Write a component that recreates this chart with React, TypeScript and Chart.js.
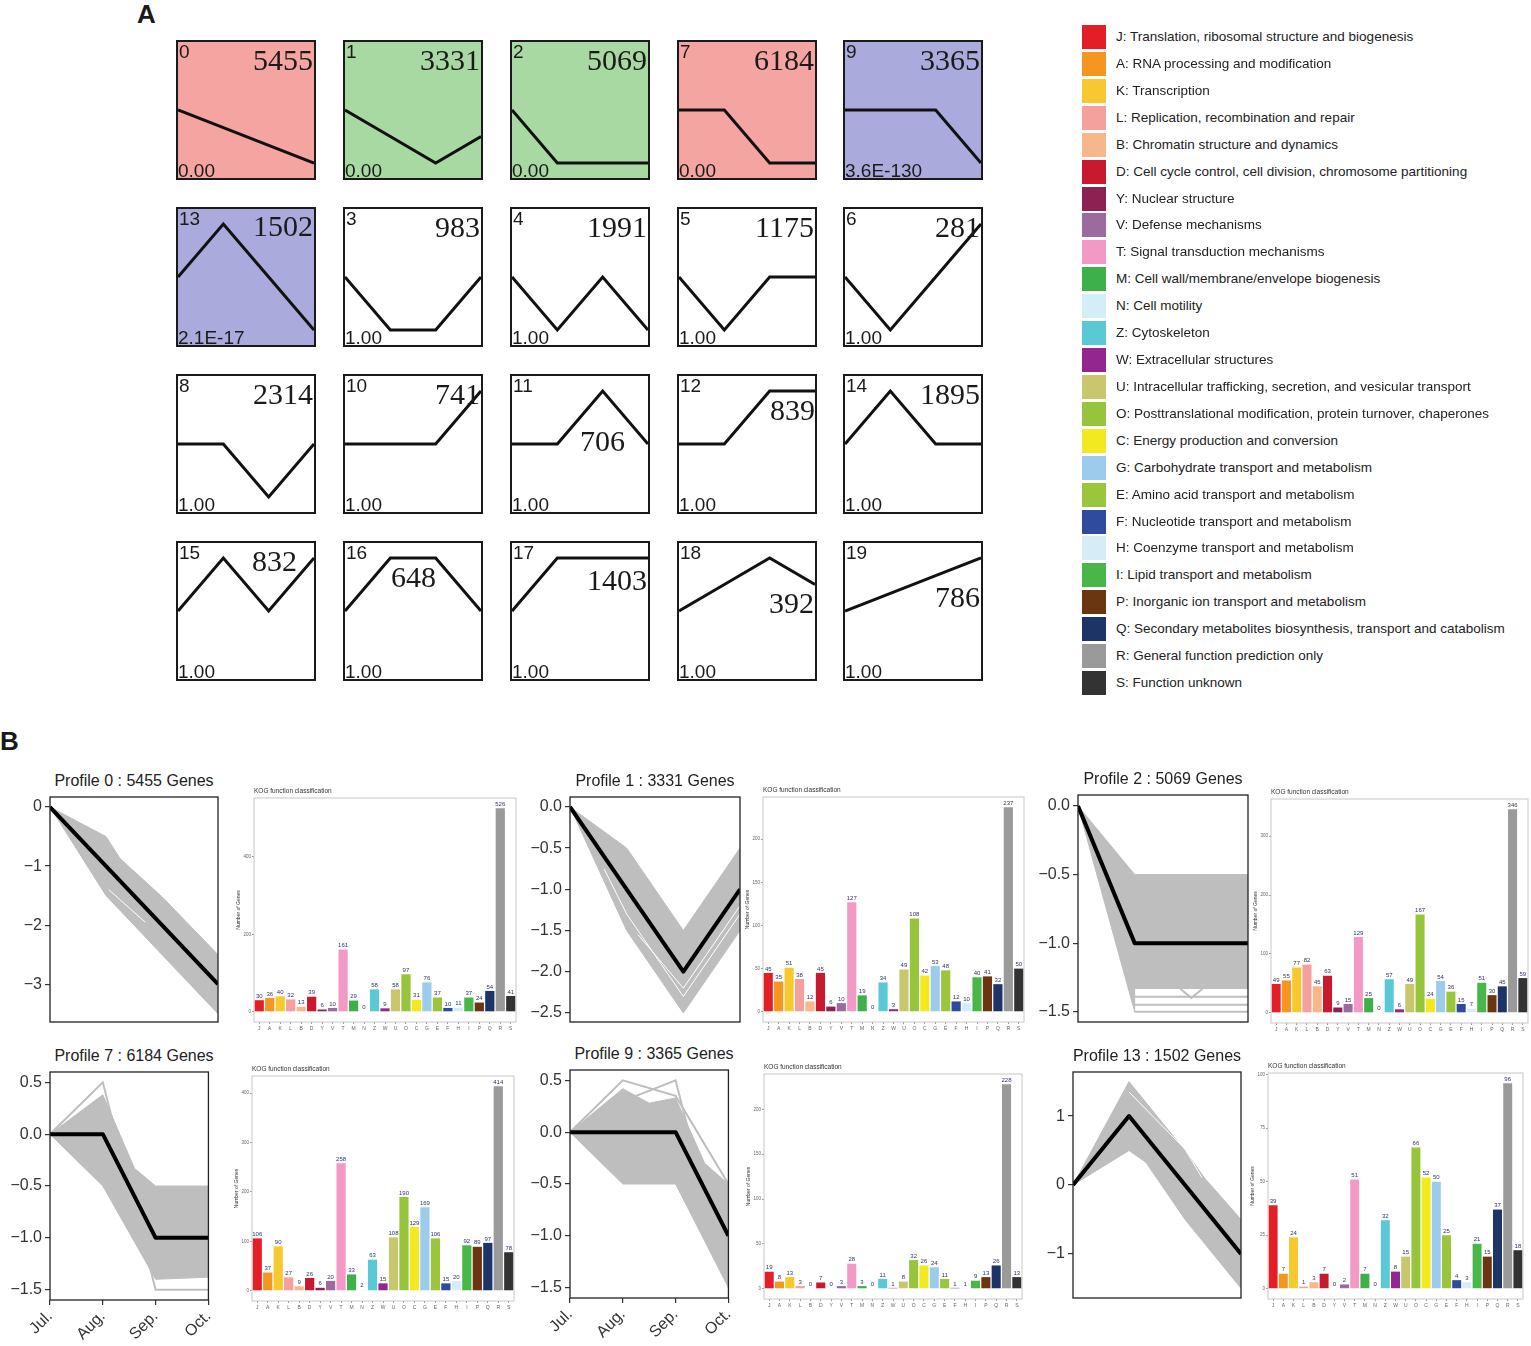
import React, { useEffect, useRef } from 'react';
import { Chart, registerables } from 'chart.js';

Chart.register(...registerables);

const SANS = '"Liberation Sans", Arial, Helvetica, sans-serif';
const SERIF = '"Liberation Serif", "Times New Roman", Times, serif';

/* ---------------- Panel A : STEM model profiles ---------------- */
const clusterIds = [0, 1, 2, 7, 9, 13, 3, 4, 5, 6, 8, 10, 11, 12, 14, 15, 16, 17, 18, 19];
const clusterPatterns = [
  [0, -1, -2, -3], [0, -1, -2, -1], [0, -1, -1, -1], [0, 0, -1, -1], [0, 0, 0, -1],
  [0, 1, 0, -1], [0, -1, -1, 0], [0, -1, 0, -1], [0, -1, 0, 0], [0, -1, 0, 1],
  [0, 0, -1, 0], [0, 0, 0, 1], [0, 0, 1, 0], [0, 0, 1, 1], [0, 1, 0, 0],
  [0, 1, 0, 1], [0, 1, 1, 0], [0, 1, 1, 1], [0, 1, 2, 1], [0, 1, 2, 3],
];
const clusterGeneCounts = [5455, 3331, 5069, 6184, 3365, 1502, 983, 1991, 1175, 281, 2314, 741, 706, 839, 1895, 832, 648, 1403, 392, 786];
const clusterPValues = ['0.00', '0.00', '0.00', '0.00', '3.6E-130', '2.1E-17', '1.00', '1.00', '1.00', '1.00',
  '1.00', '1.00', '1.00', '1.00', '1.00', '1.00', '1.00', '1.00', '1.00', '1.00'];
const clusterGroups = ['red', 'green', 'green', 'red', 'blue', 'blue', '', '', '', '', '', '', '', '', '', '', '', '', '', ''];

/* ---------------- KOG categories ---------------- */
const kogCodes = ['J', 'A', 'K', 'L', 'B', 'D', 'Y', 'V', 'T', 'M', 'N', 'Z', 'W', 'U', 'O', 'C', 'G', 'E', 'F', 'H', 'I', 'P', 'Q', 'R', 'S'];
const kogNames = [
  'Translation, ribosomal structure and biogenesis',
  'RNA processing and modification',
  'Transcription',
  'Replication, recombination and repair',
  'Chromatin structure and dynamics',
  'Cell cycle control, cell division, chromosome partitioning',
  'Nuclear structure',
  'Defense mechanisms',
  'Signal transduction mechanisms',
  'Cell wall/membrane/envelope biogenesis',
  'Cell motility',
  'Cytoskeleton',
  'Extracellular structures',
  'Intracellular trafficking, secretion, and vesicular transport',
  'Posttranslational modification, protein turnover, chaperones',
  'Energy production and conversion',
  'Carbohydrate transport and metabolism',
  'Amino acid transport and metabolism',
  'Nucleotide transport and metabolism',
  'Coenzyme transport and metabolism',
  'Lipid transport and metabolism',
  'Inorganic ion transport and metabolism',
  'Secondary metabolites biosynthesis, transport and catabolism',
  'General function prediction only',
  'Function unknown',
];
const kogColors = ['#E41E26', '#F4961F', '#F7C830', '#F4A09C', '#F8B68B', '#C8192F', '#8B2252', '#9B6B9E', '#F29AC5',
  '#3EB049', '#D3EEF6', '#5BC8D5', '#93278F', '#C9C76E', '#97C43D', '#F2E921', '#9DCBEC', '#9BC53D', '#2E4B9E',
  '#D6EDF7', '#49B649', '#6B3512', '#1C3566', '#9A9A9A', '#333333'];

/* ---------------- Panel B : profile details ---------------- */
const monthLabels = ['Jul.', 'Aug.', 'Sep.', 'Oct.'];

// Profile 0
const p0Mean = [0, -1, -2, -3];
const p0Upper = [[0, 0], [1, -0.5], [1.25, -0.87], [2, -1.52], [3, -2.5]];
const p0Lower = [[0, 0], [1, -1.5], [2, -2.5], [3, -3.5]];
const p0WhiteLines = [[[1.05, -1.4], [1.7, -1.95]]];
const p0YTicks = [0, -1, -2, -3];
const p0YLabels = ['0', '−1', '−2', '−3'];
const p0YRange = [-3.64, 0.17];
const p0Kog = [30, 36, 40, 32, 13, 39, 6, 10, 161, 29, 0, 58, 9, 58, 97, 31, 76, 37, 10, 11, 37, 24, 54, 526, 41];
const p0KogTicks = [0, 200, 400];

// Profile 1
const p1Mean = [0, -1, -2, -1];
const p1Upper = [[0, 0], [1, -0.5], [2, -1.5], [3, -0.5]];
const p1Lower = [[0, 0], [1, -1.5], [2, -2.5], [3, -1.5]];
const p1WhiteLines = [[[0.6, -0.75], [1, -1.3], [2, -2.3], [3, -1.3]], [[1.2, -1.55], [2, -2.2], [3, -1.2]]];
const p1YTicks = [0, -0.5, -1, -1.5, -2, -2.5];
const p1YLabels = ['0.0', '−0.5', '−1.0', '−1.5', '−2.0', '−2.5'];
const p1YRange = [-2.61, 0.12];
const p1Kog = [45, 35, 51, 38, 12, 45, 6, 10, 127, 19, 0, 34, 3, 49, 108, 42, 53, 48, 12, 10, 40, 41, 32, 237, 50];
const p1KogTicks = [0, 50, 100, 150, 200];

// Profile 2
const p2Mean = [0, -1, -1, -1];
const p2Upper = [[0, 0], [1, -0.5], [3, -0.5]];
const p2Lower = [[0, 0], [1, -1.5], [1, -1.33], [3, -1.33]];
const p2GrayLines = [[[1, -1.39], [3, -1.39]], [[1, -1.45], [3, -1.45]], [[1, -1.5], [3, -1.5]], [[1.8, -1.33], [2, -1.4], [2.2, -1.33]]];
const p2YTicks = [0, -0.5, -1, -1.5];
const p2YLabels = ['0.0', '−0.5', '−1.0', '−1.5'];
const p2YRange = [-1.575, 0.08];
const p2Kog = [49, 55, 77, 82, 45, 63, 9, 15, 129, 25, 0, 57, 6, 49, 167, 24, 54, 36, 15, 7, 51, 30, 45, 346, 59];
const p2KogTicks = [0, 100, 200, 300];

// Profile 7
const p7Mean = [0, 0, -1, -1];
const p7Upper = [[0, 0], [1, 0.38], [1.6, -0.33], [2, -0.5], [3, -0.5]];
const p7Lower = [[0, 0], [1, -0.5], [2, -1.4], [3, -1.38]];
const p7GrayLines = [[[0, 0], [1, 0.5], [2, -1.5], [3, -1.5]]];
const p7YTicks = [0.5, 0, -0.5, -1, -1.5];
const p7YLabels = ['0.5', '0.0', '−0.5', '−1.0', '−1.5'];
const p7YRange = [-1.6, 0.6];
const p7Kog = [106, 37, 90, 27, 9, 26, 6, 20, 258, 33, 2, 63, 15, 108, 190, 129, 169, 106, 15, 20, 92, 89, 97, 414, 78];
const p7KogTicks = [0, 100, 200, 300, 400];

// Profile 9
const p9Mean = [0, 0, 0, -1];
const p9Upper = [[0, 0], [1, 0.42], [1.5, 0.28], [2, 0.33], [2.55, -0.3], [3, -0.5]];
const p9Lower = [[0, 0], [1, -0.5], [2, -0.5], [3, -1.5]];
const p9GrayLines = [[[0, 0], [1, 0.5], [2, 0.35], [3, -0.5]], [[0, 0], [1, 0.3], [2, 0.5], [3, -1.5]]];
const p9YTicks = [0.5, 0, -0.5, -1, -1.5];
const p9YLabels = ['0.5', '0.0', '−0.5', '−1.0', '−1.5'];
const p9YRange = [-1.6, 0.6];
const p9Kog = [19, 8, 13, 3, 0, 7, 0, 3, 28, 3, 0, 11, 1, 8, 32, 26, 24, 11, 1, 1, 9, 13, 26, 228, 13];
const p9KogTicks = [0, 50, 100, 150, 200];

// Profile 13
const p13Mean = [0, 1, 0, -1];
const p13Upper = [[0, 0], [1, 1.5], [2, 0.5], [2.35, 0.1], [3, -0.5]];
const p13Lower = [[0, 0], [1, 0.5], [1.3, 0.33], [2, -0.5], [3, -1.5]];
const p13WhiteLines = [[[1, 1.35], [2, 0.52], [2.3, 0.11]]];
const p13YTicks = [1, 0, -1];
const p13YLabels = ['1', '0', '−1'];
const p13YRange = [-1.64, 1.64];
const p13Kog = [39, 7, 24, 1, 3, 7, 0, 2, 51, 7, 0, 32, 8, 15, 66, 52, 50, 25, 4, 3, 21, 15, 37, 96, 18];
const p13KogTicks = [0, 25, 50, 75, 100];

const detailProfiles = [
  { id: 0, genes: 5455, mean: p0Mean, upper: p0Upper, lower: p0Lower, gray: [], white: p0WhiteLines, yTicks: p0YTicks, yLabels: p0YLabels, yRange: p0YRange, kog: p0Kog, kogTicks: p0KogTicks },
  { id: 1, genes: 3331, mean: p1Mean, upper: p1Upper, lower: p1Lower, gray: [], white: p1WhiteLines, yTicks: p1YTicks, yLabels: p1YLabels, yRange: p1YRange, kog: p1Kog, kogTicks: p1KogTicks },
  { id: 2, genes: 5069, mean: p2Mean, upper: p2Upper, lower: p2Lower, gray: p2GrayLines, white: [], yTicks: p2YTicks, yLabels: p2YLabels, yRange: p2YRange, kog: p2Kog, kogTicks: p2KogTicks },
  { id: 7, genes: 6184, mean: p7Mean, upper: p7Upper, lower: p7Lower, gray: p7GrayLines, white: [], yTicks: p7YTicks, yLabels: p7YLabels, yRange: p7YRange, kog: p7Kog, kogTicks: p7KogTicks },
  { id: 9, genes: 3365, mean: p9Mean, upper: p9Upper, lower: p9Lower, gray: p9GrayLines, white: [], yTicks: p9YTicks, yLabels: p9YLabels, yRange: p9YRange, kog: p9Kog, kogTicks: p9KogTicks },
  { id: 13, genes: 1502, mean: p13Mean, upper: p13Upper, lower: p13Lower, gray: [], white: p13WhiteLines, yTicks: p13YTicks, yLabels: p13YLabels, yRange: p13YRange, kog: p13Kog, kogTicks: p13KogTicks },
];

/* ---------------- layout (positions only) ---------------- */
const boxLeft = [176, 343, 510, 677, 843];
const boxTop = [40, 207, 374, 541];
const BOX = 140;
// [distance of count text from box right edge, vertical centre of count from box top]
const countPlacement = [
  [3, 20], [3, 20], [3, 20], [3, 20], [3, 20],
  [3, 19], [3, 20], [3, 20], [3, 20], [3, 20],
  [3, 20], [3, 20], [25, 67], [2, 36], [3, 20],
  [19, 20], [47, 36], [3, 39], [3, 62], [3, 56],
];
const groupFill: Record<string, string> = { red: '#F4A4A1', green: '#A9D9A2', blue: '#AAAADC', '': '#FFFFFF' };

const lineBoxes = [
  { l: 50, t: 797, r: 218, b: 1022, showX: false },
  { l: 570, t: 797, r: 740, b: 1022, showX: false },
  { l: 1078, t: 795, r: 1248, b: 1022, showX: false },
  { l: 50, t: 1072, r: 218, b: 1300, showX: true },
  { l: 570, t: 1070, r: 738, b: 1298, showX: true },
  { l: 1073, t: 1072, r: 1241, b: 1298, showX: false },
];
const barBoxes = [
  { l: 254, t: 798, r: 516, b: 1022 },
  { l: 763, t: 797, r: 1024, b: 1022 },
  { l: 1271, t: 799, r: 1528, b: 1023 },
  { l: 252, t: 1076, r: 514, b: 1301 },
  { l: 764, t: 1074, r: 1022, b: 1299 },
  { l: 1268, t: 1073, r: 1523, b: 1299 },
];

const BAND = '#BEBEBE';

/* ---------------- helpers ---------------- */
const framePlugin = (color: string, width: number) => ({
  id: 'frame',
  afterDraw(chart: any) {
    const { ctx, chartArea: a } = chart;
    ctx.save();
    ctx.strokeStyle = color;
    ctx.lineWidth = width;
    ctx.strokeRect(a.left, a.top, a.right - a.left, a.bottom - a.top);
    ctx.restore();
  },
});

const barLabelPlugin = {
  id: 'barLabels',
  afterDatasetsDraw(chart: any) {
    const ctx = chart.ctx;
    const meta = chart.getDatasetMeta(0);
    const vals = chart.data.datasets[0].data;
    ctx.save();
    ctx.font = `6px ${SANS}`;
    ctx.fillStyle = '#2E3566';
    ctx.textAlign = 'center';
    ctx.textBaseline = 'bottom';
    meta.data.forEach((bar: any, i: number) => ctx.fillText(String(vals[i]), bar.x, bar.y - 1));
    ctx.restore();
  },
};

const kogTitlePlugin = {
  id: 'kogTitle',
  afterDraw(chart: any) {
    const { ctx, chartArea: a } = chart;
    ctx.save();
    ctx.font = `6.5px ${SANS}`;
    ctx.fillStyle = '#333';
    ctx.textAlign = 'left';
    ctx.textBaseline = 'alphabetic';
    ctx.fillText('KOG function classification', a.left, a.top - 5);
    ctx.restore();
  },
};

function ChartCanvas({ left, top, width, height, make }: any) {
  const ref = useRef<HTMLCanvasElement>(null);
  useEffect(() => {
    const chart = new Chart(ref.current as HTMLCanvasElement, make());
    return () => chart.destroy();
  }, []);
  return (
    <canvas
      ref={ref}
      width={width}
      height={height}
      style={{ position: 'absolute', left, top, width, height, display: 'block' }}
    />
  );
}

function miniConfig(pattern: number[]): any {
  const m = Math.max(...pattern.map((v) => Math.abs(v)));
  const lim = m * 1.283;
  return {
    type: 'line',
    data: {
      datasets: [{
        data: pattern.map((y, i) => ({ x: i, y })),
        borderColor: '#111',
        borderWidth: 3,
        pointRadius: 0,
        fill: false,
        tension: 0,
      }],
    },
    options: {
      responsive: false,
      animation: false,
      events: [],
      layout: { padding: 0 },
      plugins: { legend: { display: false }, tooltip: { enabled: false } },
      scales: {
        x: { type: 'linear', display: false, min: 0, max: 3 },
        y: { display: false, min: -lim, max: lim },
      },
    },
  };
}

const PAD_TOP = 14;
const PAD_BOTTOM = 16;
const Y_W = 50;
const X_H = 44;

function profileConfig(p: any, showX: boolean): any {
  const pts = (arr: number[][]) => arr.map(([x, y]) => ({ x, y }));
  // Chart.js paints higher "order" first, so the band sits behind and the mean line on top.
  const datasets: any[] = [
    { data: pts(p.upper), borderColor: BAND, backgroundColor: BAND, borderWidth: 1, fill: '+1', pointRadius: 0, order: 10 },
    { data: pts(p.lower), borderColor: BAND, borderWidth: 1, fill: false, pointRadius: 0, order: 9 },
  ];
  p.gray.forEach((l: number[][]) => datasets.push({ data: pts(l), borderColor: BAND, borderWidth: 2, fill: false, pointRadius: 0, order: 5 }));
  p.white.forEach((l: number[][]) => datasets.push({ data: pts(l), borderColor: '#FFFFFF', borderWidth: 1, fill: false, pointRadius: 0, order: 3 }));
  datasets.push({ data: p.mean.map((y: number, i: number) => ({ x: i, y })), borderColor: '#000', borderWidth: 4, fill: false, pointRadius: 0, borderJoinStyle: 'round', order: 0 });
  return {
    type: 'line',
    data: { datasets },
    options: {
      responsive: false,
      animation: false,
      events: [],
      layout: { padding: { top: PAD_TOP, right: 6, left: 0, bottom: showX ? 0 : PAD_BOTTOM } },
      plugins: { legend: { display: false }, tooltip: { enabled: false } },
      scales: {
        x: {
          type: 'linear', min: 0, max: 3, display: showX,
          afterBuildTicks: (s: any) => { s.ticks = [0, 1, 2, 3].map((v) => ({ value: v })); },
          ticks: {
            callback: (_v: any, i: number) => monthLabels[i],
            font: { size: 16, family: SANS }, color: '#333', minRotation: 45, maxRotation: 45, autoSkip: false, padding: 2,
          },
          grid: { drawOnChartArea: false, drawTicks: true, tickLength: 5, color: '#333', tickColor: '#333', lineWidth: 1.2 },
          border: { display: false },
          afterFit: (s: any) => { s.height = showX ? X_H : 0; },
        },
        y: {
          type: 'linear', min: p.yRange[0], max: p.yRange[1],
          afterBuildTicks: (s: any) => { s.ticks = p.yTicks.map((v: number) => ({ value: v })); },
          ticks: {
            callback: (_v: any, i: number) => p.yLabels[i],
            font: { size: 16, family: SANS }, color: '#333', padding: 3, autoSkip: false,
          },
          grid: { drawOnChartArea: false, drawTicks: true, tickLength: 5, color: '#333', tickColor: '#333', lineWidth: 1.2 },
          border: { display: false },
          afterFit: (s: any) => { s.width = Y_W; },
        },
      },
    },
    plugins: [framePlugin('#222', 1.3)],
  };
}

const BAR_Y_W = 18;
const BAR_X_H = 12;
const BAR_TOP = 14;

function barConfig(values: number[], ticks: number[]): any {
  const max = Math.max(...values);
  return {
    type: 'bar',
    data: {
      labels: kogCodes,
      datasets: [{ data: values, backgroundColor: kogColors, borderWidth: 0, barPercentage: 0.88, categoryPercentage: 1 }],
    },
    options: {
      responsive: false,
      animation: false,
      events: [],
      layout: { padding: { top: BAR_TOP, right: 3, left: 0, bottom: 0 } },
      plugins: { legend: { display: false }, tooltip: { enabled: false } },
      scales: {
        x: {
          ticks: { font: { size: 5, family: SANS }, color: '#666', autoSkip: false, maxRotation: 0, minRotation: 0, padding: 2 },
          grid: { display: true, drawOnChartArea: false, drawTicks: true, tickLength: 2, color: '#999', offset: false },
          border: { display: false },
          afterFit: (s: any) => { s.height = BAR_X_H; },
        },
        y: {
          min: -0.05 * max, max: 1.05 * max,
          afterBuildTicks: (s: any) => { s.ticks = ticks.map((v) => ({ value: v })); },
          ticks: { font: { size: 4.5, family: SANS }, color: '#666', padding: 1, autoSkip: false },
          grid: { drawOnChartArea: false, drawTicks: true, tickLength: 2, color: '#999' },
          border: { display: false },
          title: { display: true, text: 'Number of Genes', font: { size: 5, family: SANS }, color: '#333', padding: 0 },
          afterFit: (s: any) => { s.width = BAR_Y_W; },
        },
      },
    },
    plugins: [framePlugin('#C8C8C8', 1), barLabelPlugin, kogTitlePlugin],
  };
}

export default function App() {
  useEffect(() => {
    document.body.style.overflow = 'hidden';
  }, []);

  return (
    <div style={{ position: 'absolute', left: 0, top: 0, width: 1531, height: 1346, overflow: 'hidden', background: '#fff', fontFamily: SANS, color: '#1a1a1a' }}>
      {/* Panel letters */}
      <div style={{ position: 'absolute', left: 137, top: 1, fontSize: 26, fontWeight: 'bold', lineHeight: 1 }}>A</div>
      <div style={{ position: 'absolute', left: 0, top: 728, fontSize: 26, fontWeight: 'bold', lineHeight: 1 }}>B</div>

      {/* Panel A boxes */}
      {clusterIds.map((id, i) => {
        const left = boxLeft[i % 5];
        const top = boxTop[Math.floor(i / 5)];
        const [cr, cy] = countPlacement[i];
        return (
          <div key={id} style={{ position: 'absolute', left, top, width: BOX, height: BOX, border: '2px solid #1a1a1a', boxSizing: 'border-box', background: groupFill[clusterGroups[i]] }}>
            <ChartCanvas left={0} top={0} width={BOX - 4} height={BOX - 4} make={() => miniConfig(clusterPatterns[i])} />
            <div style={{ position: 'absolute', left: 1, top: 0, fontSize: 19, lineHeight: 1 }}>{id}</div>
            <div style={{ position: 'absolute', right: cr - 2, top: cy - 2, transform: 'translateY(-50%)', fontFamily: SERIF, fontSize: 30, lineHeight: 1 }}>{clusterGeneCounts[i]}</div>
            <div style={{ position: 'absolute', left: 0, bottom: -2, fontSize: 19, lineHeight: 1 }}>{clusterPValues[i]}</div>
          </div>
        );
      })}

      {/* Panel A legend */}
      {kogCodes.map((c, i) => {
        const top = 25 + i * 26.92;
        return (
          <React.Fragment key={c}>
            <div style={{ position: 'absolute', left: 1082, top, width: 24, height: 24, background: kogColors[i] }} />
            <div style={{ position: 'absolute', left: 1116, top: top + 12, transform: 'translateY(-50%)', fontSize: 13.5, lineHeight: 1, whiteSpace: 'nowrap', color: '#222' }}>
              {`${c}: ${kogNames[i]}`}
            </div>
          </React.Fragment>
        );
      })}

      {/* Panel B */}
      {detailProfiles.map((p, i) => {
        const lb = lineBoxes[i];
        const bb = barBoxes[i];
        const lw = lb.r - lb.l + Y_W + 6;
        const lh = lb.b - lb.t + PAD_TOP + (lb.showX ? X_H : PAD_BOTTOM);
        const bw = bb.r - bb.l + BAR_Y_W + 3;
        const bh = bb.b - bb.t + BAR_TOP + BAR_X_H;
        return (
          <React.Fragment key={p.id}>
            <div style={{ position: 'absolute', left: lb.l - 60, width: lb.r - lb.l + 120, top: lb.t - 16, transform: 'translateY(-50%)', textAlign: 'center', fontSize: 16, lineHeight: 1, color: '#222', whiteSpace: 'nowrap' }}>
              {`Profile ${p.id} : ${p.genes} Genes`}
            </div>
            <ChartCanvas left={lb.l - Y_W} top={lb.t - PAD_TOP} width={lw} height={lh} make={() => profileConfig(p, lb.showX)} />
            <ChartCanvas left={bb.l - BAR_Y_W} top={bb.t - BAR_TOP} width={bw} height={bh} make={() => barConfig(p.kog, p.kogTicks)} />
          </React.Fragment>
        );
      })}
    </div>
  );
}
